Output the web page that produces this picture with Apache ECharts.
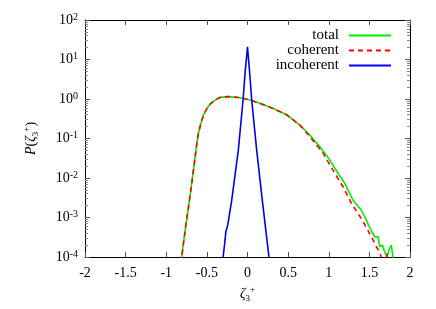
<!DOCTYPE html>
<html><head><meta charset="utf-8">
<script src="https://cdn.jsdelivr.net/npm/echarts@6/dist/echarts.min.js"></script>
<style>html,body{margin:0;padding:0;background:#fff}#c{width:436px;height:309px}</style>
</head><body><div id="c"></div>
<script>
// x ticks
const xTicks = [-2, -1.5, -1, -0.5, 0, 0.5, 1, 1.5, 2];
// total (green)
const totalX = [-0.83,-0.81,-0.767,-0.726,-0.697,-0.665,-0.644,-0.623,-0.604,-0.574,-0.542,-0.50,-0.46,-0.40,-0.337,-0.236,-0.09,0.03,0.153,0.317,0.48,0.644,0.767,0.89,1.012,1.114,1.196,1.298,1.40,1.46,1.52,1.565,1.61,1.626,1.66,1.687,1.716,1.75,1.77,1.79,1.80];
const totalP = [0.00007,0.0001,0.00048,0.00186,0.005,0.0158,0.0347,0.0759,0.135,0.24,0.389,0.575,0.741,0.933,1.10,1.15,1.08,0.944,0.776,0.575,0.40,0.219,0.123,0.0617,0.0288,0.0132,0.00741,0.00275,0.00155,0.00087,0.00048,0.000324,0.000324,0.000182,0.0002,0.000135,0.0001,0.000166,0.0002,0.0001,0.00007];
// coherent (red dashed)
const cohX = [-0.83,-0.81,-0.767,-0.726,-0.697,-0.665,-0.644,-0.623,-0.604,-0.574,-0.542,-0.50,-0.46,-0.40,-0.337,-0.236,-0.09,0.03,0.153,0.317,0.48,0.644,0.767,0.93,1.053,1.176,1.279,1.40,1.48,1.545,1.585,1.626,1.645,1.66,1.70,1.72,1.74];
const cohP = [0.00007,0.0001,0.00048,0.00186,0.005,0.0158,0.0347,0.0759,0.135,0.24,0.389,0.575,0.741,0.933,1.10,1.15,1.08,0.944,0.776,0.575,0.40,0.219,0.112,0.0427,0.0158,0.006,0.00229,0.00095,0.00048,0.00027,0.000182,0.000135,0.0001,0.00007,0.00007,0.000123,0.00007];
// incoherent (blue)
const incX = [-0.31,-0.30,-0.276,-0.267,-0.243,-0.194,-0.113,-0.055,-0.03,0.0,0.027,0.052,0.113,0.182,0.264,0.275];
const incP = [0.00007,0.0001,0.00027,0.00043,0.00065,0.00275,0.051,0.93,4.5,21,4.5,0.93,0.051,0.00275,0.0001,0.00007];

const minorVals = [];
for (let e = -4; e < 2; e++) for (let k = 2; k <= 9; k++) minorVals.push(k * Math.pow(10, e));

const FONT = 'Liberation Serif';
const pair = (xs, ys) => xs.map((x, i) => [x, ys[i]]);
const chart = echarts.init(document.getElementById('c'));
const supRich = { s: { fontSize: 10, lineHeight: 10, verticalAlign: 'top', fontFamily: FONT, color: '#000' } };
const yBase = { type: 'log', logBase: 10, min: 1e-4, max: 100, interval: 1 };
const legendCommon = { right: 39, align: 'right', itemWidth: 42, itemHeight: 10, icon: 'inherit',
  itemStyle: { opacity: 0 }, textStyle: { fontFamily: FONT, fontSize: 15, color: '#000', padding: [0, 5, 0, 0] } };
chart.setOption({
  animation: false,
  grid: { left: 85, right: 26, top: 20, bottom: 52 },
  legend: [
    Object.assign({ data: ['total'], top: 23 }, legendCommon),
    Object.assign({ data: ['coherent'], top: 38 }, legendCommon),
    Object.assign({ data: ['incoherent'], top: 53 }, legendCommon)
  ],
  xAxis: [
    { type: 'value', min: -2, max: 2, interval: 0.5, position: 'bottom',
      name: '{z|ζ}{b|3}{s|+}', nameLocation: 'middle', nameGap: 25,
      nameTextStyle: { fontFamily: FONT, fontSize: 14, color: '#000', lineHeight: 18,
        rich: { z: { fontSize: 14, fontFamily: FONT, fontStyle: 'italic', lineHeight: 18 }, b: { fontSize: 9, lineHeight: 9, verticalAlign: 'bottom', fontFamily: FONT }, s: { fontSize: 9, lineHeight: 9, verticalAlign: 'top', fontFamily: FONT } } },
      axisLine: { show: true, onZero: false, lineStyle: { color: '#000', width: 1 } },
      axisTick: { inside: true, length: 5, lineStyle: { color: '#555' } },
      axisLabel: { margin: 9, fontFamily: FONT, fontSize: 14, color: '#000', formatter: v => String(v) },
      splitLine: { show: false } },
    { type: 'value', min: -2, max: 2, interval: 0.5, position: 'top',
      axisLine: { show: true, onZero: false, lineStyle: { color: '#000', width: 1 } },
      axisTick: { inside: true, length: 5, lineStyle: { color: '#555' } },
      axisLabel: { show: false }, splitLine: { show: false } }
  ],
  yAxis: [
    Object.assign({}, yBase, { position: 'left',
      name: '{i|P}({z|ζ}{b|3}{s|+})', nameLocation: 'middle', nameGap: 45, nameRotate: 90,
      nameTextStyle: { fontFamily: FONT, fontSize: 14, color: '#000', lineHeight: 18,
        rich: { i: { fontSize: 14, fontStyle: 'italic', fontFamily: FONT, lineHeight: 18 }, z: { fontSize: 14, fontStyle: 'italic', fontFamily: FONT, lineHeight: 18 }, b: { fontSize: 9, lineHeight: 9, verticalAlign: 'bottom', fontFamily: FONT }, s: { fontSize: 9, lineHeight: 9, verticalAlign: 'top', fontFamily: FONT } } },
      axisLine: { show: true, onZero: false, lineStyle: { color: '#000', width: 1 } },
      axisTick: { inside: true, length: 5, lineStyle: { color: '#555' } },
      axisLabel: { margin: 7, fontFamily: FONT, fontSize: 14, color: '#000', lineHeight: 16,
        formatter: v => '10{s|' + Math.round(Math.log10(v)) + '}', rich: supRich },
      splitLine: { show: false } }),
    Object.assign({}, yBase, { position: 'right',
      axisLine: { show: true, onZero: false, lineStyle: { color: '#000', width: 1 } },
      axisTick: { inside: true, length: 5, lineStyle: { color: '#555' } },
      axisLabel: { show: false }, splitLine: { show: false } }),
    Object.assign({}, yBase, { position: 'left', axisLine: { show: false, onZero: false },
      axisTick: { inside: true, length: 3, customValues: minorVals, lineStyle: { color: '#888' } },
      axisLabel: { show: false }, splitLine: { show: false } }),
    Object.assign({}, yBase, { position: 'right', axisLine: { show: false, onZero: false },
      axisTick: { inside: true, length: 3, customValues: minorVals, lineStyle: { color: '#888' } },
      axisLabel: { show: false }, splitLine: { show: false } })
  ],
  series: [
    { name: 'total', type: 'line', data: pair(totalX, totalP), showSymbol: false, symbol: 'none', clip: true,
      lineStyle: { color: '#00ee00', width: 1.6 }, itemStyle: { color: '#00ee00' } },
    { name: 'coherent', type: 'line', data: pair(cohX, cohP), showSymbol: false, symbol: 'none', clip: true,
      lineStyle: { color: '#ff0000', width: 1.6, type: [5, 4] }, itemStyle: { color: '#ff0000' } },
    { name: 'incoherent', type: 'line', data: pair(incX, incP), showSymbol: false, symbol: 'none', clip: true,
      lineStyle: { color: '#0000ee', width: 1.6 }, itemStyle: { color: '#0000ee' } }
  ]
});
</script></body></html>
